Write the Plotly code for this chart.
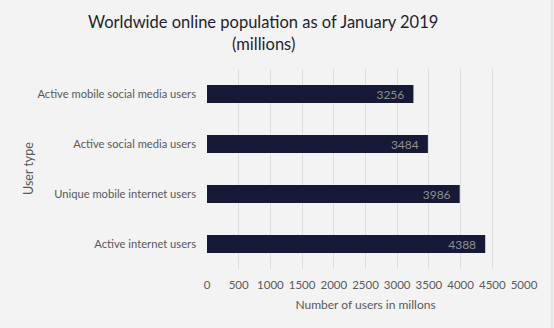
import plotly.graph_objects as go

categories = ["Active internet users", "Unique mobile internet users",
              "Active social media users", "Active mobile social media users"]
values = [4388, 3986, 3484, 3256]
x_ticks = [0, 500, 1000, 1500, 2000, 2500, 3000, 3500, 4000, 4500, 5000]
title_lines = ["Worldwide online population as of January 2019", "(millions)"]

FONT = "Lato, 'Open Sans', sans-serif"
W, H = 554, 328
L, R, T, B = 207, 30, 69, 59
PW, PH = W - L - R, H - T - B

fig = go.Figure(go.Bar(
    x=values, y=categories, orientation="h",
    marker=dict(color="#161a36", line=dict(width=0)),
    text=[f"{v}\u00a0\u00a0" for v in values],
    textposition="inside", insidetextanchor="end", constraintext="none",
    textfont=dict(color="#8f8f8f", size=12, family=FONT),
    width=0.36, hoverinfo="skip",
))

def px_x(p):
    return (p - L) / PW

def px_y(p):
    return (H - B - p) / PH

annotations = [dict(text="User type", textangle=-90, x=px_x(28), y=0.5,
                    xref="paper", yref="paper", xanchor="center", yanchor="middle",
                    showarrow=False, font=dict(size=12.5, color="#595959"))]
for i, line in enumerate(title_lines):
    annotations.append(dict(text=line, x=px_x(263), y=px_y(22 + 22 * i),
                            xref="paper", yref="paper", xanchor="center",
                            yanchor="middle", showarrow=False,
                            font=dict(size=16.5, color="#1f1f2e")))

fig.update_layout(
    width=W, height=H,
    margin=dict(l=L, r=R, t=T, b=B),
    paper_bgcolor="#f3f3f3", plot_bgcolor="#f3f3f3",
    font=dict(family=FONT, color="#595959", size=11.2),
    showlegend=False,
    xaxis=dict(range=[0, 5000], tickvals=x_ticks, showgrid=True,
               gridcolor="#dedede", gridwidth=1, zeroline=False,
               showline=False, ticks="", tickfont=dict(size=11.5, color="#595959"),
               ticklabelstandoff=7,
               title=dict(text="Number of users in millons", standoff=11,
                          font=dict(size=12, color="#595959"))),
    yaxis=dict(showgrid=False, zeroline=False, showline=False, ticks="",
               tickfont=dict(size=11.2, color="#595959"), ticklabelstandoff=10,
               range=[-0.5, 3.5]),
    annotations=annotations,
)
fig.add_shape(type="line", xref="paper", yref="paper",
              x0=px_x(552), x1=px_x(552), y0=-1, y1=2,
              line=dict(color="#d9d9d9", width=1))

fig.write_html("out.html")
